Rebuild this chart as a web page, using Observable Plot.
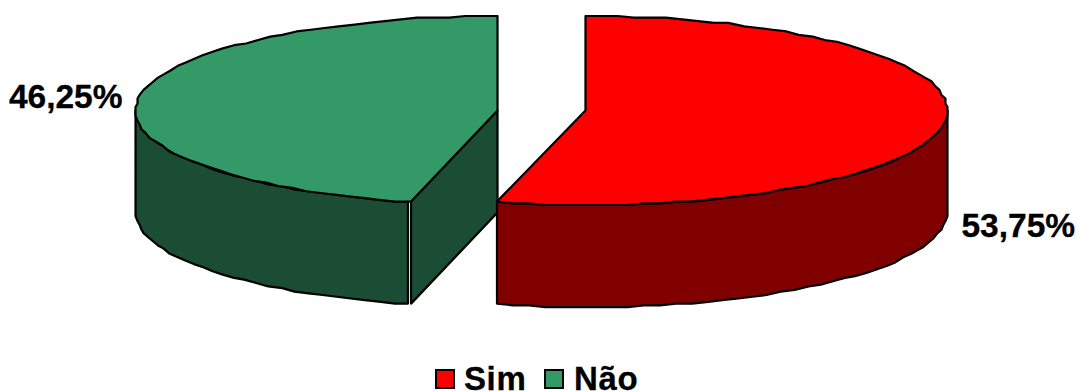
<!DOCTYPE html>
<html lang="pt">
<head>
<meta charset="utf-8">
<script src="https://cdn.jsdelivr.net/npm/d3@7"></script>
<script src="https://cdn.jsdelivr.net/npm/@observablehq/plot@0.6"></script>
<style>
  html, body { margin: 0; padding: 0; background: #fff; overflow: hidden; }
  #chart { width: 1078px; height: 392px; font-family: "Liberation Sans", Arial, sans-serif; }
  #chart svg { display: block; }
  .legend { height: 42px; position: relative; font-weight: bold; font-size: 33px; color: #000; -webkit-text-stroke: 0.3px #000; }
  .legend i { position: absolute; top: 19px; width: 16px; height: 16px; border: 2.5px solid #000; }
  .legend span { position: absolute; top: 17px; height: 22px; line-height: 23px; letter-spacing: 0.6px; }
</style>
</head>
<body>
<div id="chart"></div>
<script>
// Survey answers, in percent
const categories = ["Sim", "Não"];
const shares = [53.75, 46.25];
const shareLabels = ["53,75%", "46,25%"];
const topColors = ["#ff0000", "#339966"];
const wallColors = ["#800000", "#1a4d33"];

// Pie geometry in disc units: radius 1 on both axes, flattened by the scales
const explode = 0.1215;      // each slice is pulled apart sideways
const thickness = 1.08;      // height of the walls
const sweepSkew = 0.011;     // the tilted view widens the cut slightly
const arcStep = 0.045;       // facets along the rim, in radians
const snapX = 180;           // coarse device grid of the rim vertices
const snapY = 55;
const cutGap = 0.0085;       // hairline between the cut face and the outer wall

const TAU = 2 * Math.PI;
const rim = (cx, a, drop = 0) => ({
  x: cx + Math.round(Math.sin(a) * snapX) / snapX,
  y: Math.round(-Math.cos(a) * snapY) / snapY + drop
});

function arc(cx, a0, a1, drop = 0) {
  const n = Math.max(1, Math.round(Math.abs(a1 - a0) / arcStep));
  return d3.range(n + 1).map((i) => rim(cx, a0 + ((a1 - a0) * i) / n, drop));
}
const closed = (pts) => [...pts, pts[0]];

const split = (shares[0] / 100) * TAU + sweepSkew;
const sim = {cx: explode, a0: 0, a1: split};
const nao = {cx: -explode, a0: split - 0.006, a1: TAU};

// Outer walls only show on the front half of the disc
const simWall = closed([
  ...arc(sim.cx, Math.PI / 2, sim.a1),
  ...arc(sim.cx, sim.a1, Math.PI / 2, thickness)
]);
const naoFront = arc(nao.cx, nao.a0, 1.5 * Math.PI);
const naoBack = arc(nao.cx, 1.5 * Math.PI, nao.a0, thickness);
const naoWall = closed([
  {...naoFront[0], x: naoFront[0].x - cutGap},
  ...naoFront.slice(1),
  ...naoBack.slice(0, -1),
  {...naoBack[naoBack.length - 1], x: naoBack[naoBack.length - 1].x - cutGap}
]);
// The cut face of the "Não" slice looks towards the viewer
const naoCut = closed([
  {x: nao.cx, y: 0},
  rim(nao.cx, nao.a0),
  rim(nao.cx, nao.a0, thickness),
  {x: nao.cx, y: thickness}
]);
const wedge = ({cx, a0, a1}) => closed([{x: cx, y: 0}, ...arc(cx, a0, a1)]);

const outline = {x: "x", y: "y", stroke: "#000", strokeWidth: 2.2, strokeLinejoin: "round"};
const face = (pts, fill) => Plot.line(pts, {...outline, fill});

const labelRows = [
  {x: sim.cx + 1, y: 0, text: shareLabels[0], anchor: "start", dx: 14, dy: 116},
  {x: nao.cx - 1, y: 0, text: shareLabels[1], anchor: "end", dx: -13, dy: -13}
];
const labelMark = (row) =>
  Plot.text([row], {
    x: "x", y: "y", text: "text", textAnchor: row.anchor, lineAnchor: "middle",
    dx: row.dx, dy: row.dy, fontSize: 33.5, fontWeight: "bold", fill: "#000",
    stroke: "#000", strokeWidth: 0.3
  });

const plot = Plot.plot({
  width: 1078,
  height: 350,
  margin: 0,
  style: {fontFamily: '"Liberation Sans", Arial, sans-serif', background: "#fff"},
  x: {axis: null, domain: [-541 / 362, 537 / 362], range: [0, 1078]},
  y: {axis: null, domain: [-110 / 94.5, 240 / 94.5], range: [0, 350]},
  marks: [
    face(naoWall, wallColors[1]),
    face(naoCut, wallColors[1]),
    face(simWall, wallColors[0]),
    face(wedge(nao), topColors[1]),
    face(wedge(sim), topColors[0]),
    labelMark(labelRows[0]),
    labelMark(labelRows[1])
  ]
});

const chart = document.getElementById("chart");
chart.append(plot);

// Legend row under the pie
const legend = document.createElement("div");
legend.className = "legend";
const keyLeft = [435, 544];
const keyTextGap = [29, 30];
categories.forEach((name, i) => {
  const key = document.createElement("i");
  key.style.left = keyLeft[i] + "px";
  key.style.background = topColors[i];
  const label = document.createElement("span");
  label.style.left = keyLeft[i] + keyTextGap[i] + "px";
  label.textContent = name;
  legend.append(key, label);
});
chart.append(legend);
</script>
</body>
</html>
